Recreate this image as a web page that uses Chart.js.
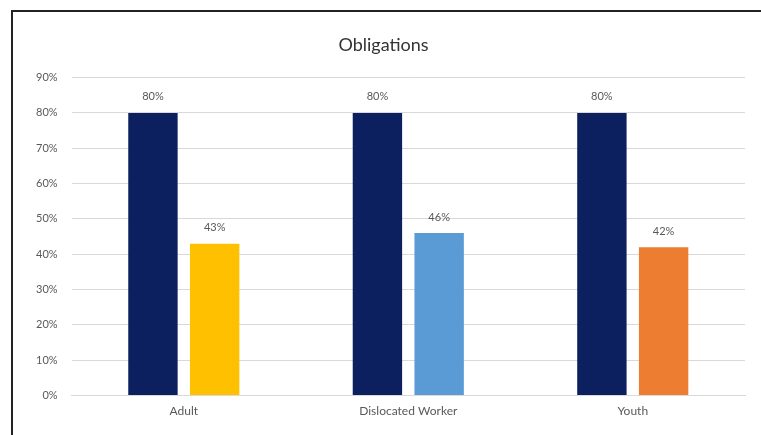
<!DOCTYPE html>
<html>
<head>
<meta charset="utf-8">
<script src="https://cdn.jsdelivr.net/npm/chart.js@4/dist/chart.umd.min.js"></script>
<style>
  html, body { margin: 0; padding: 0; background: #fff; }
  #wrap { position: relative; width: 761px; height: 435px; }
  /* frame round the chart, open at right and bottom */
  #frame { position: absolute; left: 11px; top: 10px; right: -4px; bottom: -4px;
           border-left: 2px solid #222; border-top: 2px solid #222; pointer-events: none; }
  canvas { position: absolute; left: 0; top: 0; }
</style>
</head>
<body>
<div id="wrap">
  <canvas id="barchart" width="761" height="435"></canvas>
  <div id="frame"></div>
</div>
<script>
const categories = ['Adult', 'Dislocated Worker', 'Youth'];
const targetValues = [80, 80, 80];
const actualValues = [43, 46, 42];
const actualColors = ['#ffc000', '#5b9bd5', '#ed7d31'];
const yTicks = [0, 10, 20, 30, 40, 50, 60, 70, 80, 90];

/*writes the percentage above every bar*/
const valueLabels = {
  id: 'valueLabels',
  afterDatasetsDraw(chart) {
    const c = chart.ctx;
    c.save();
    c.font = '11px Lato';
    c.fillStyle = '#595959';
    c.textAlign = 'center';
    c.textBaseline = 'middle';
    chart.data.datasets.forEach((ds, i) => {
      chart.getDatasetMeta(i).data.forEach((bar, j) => {
        c.fillText(ds.data[j] + '%', bar.x, bar.y - 16);
      });
    });
    c.restore();
  }
};

window.onload = function () {
  const ctx = document.getElementById('barchart').getContext('2d');

  new Chart(ctx, {
    type: 'bar',
    data: {
      labels: categories,
      datasets: [{
        label: 'Target',
        data: targetValues,
        backgroundColor: '#0c1f5e'
      }, {
        label: 'Actual',
        data: actualValues,
        backgroundColor: actualColors
      }]
    },
    options: {
      responsive: false,
      animation: false,
      datasets: {
        bar: { categoryPercentage: 0.55, barPercentage: 0.8 }
      },
      layout: {
        padding: { left: 22, right: 16, top: 0, bottom: 17 }
      },
      plugins: {
        legend: { display: false },
        tooltip: { enabled: false },
        title: {
          display: true,
          text: 'Obligations',
          color: '#333',
          font: { family: 'Lato', size: 18, weight: 'normal' },
          padding: { top: 34, bottom: 22 }
        }
      },
      scales: {
        x: {
          grid: { display: false },
          border: { color: '#d9d9d9' },
          ticks: {
            color: '#595959',
            padding: 0,
            font: { family: 'Lato', size: 12 }
          }
        },
        y: {
          min: 0,
          max: 90,
          afterBuildTicks: (scale) => {
            scale.ticks = yTicks.map(v => ({ value: v }));
          },
          grid: { color: '#d9d9d9', drawTicks: false },
          border: { display: false },
          ticks: {
            color: '#595959',
            padding: 14,
            font: { family: 'Lato', size: 11 },
            callback: (v) => v + '%'
          }
        }
      }
    },
    plugins: [valueLabels]
  });
};
</script>
</body>
</html>
